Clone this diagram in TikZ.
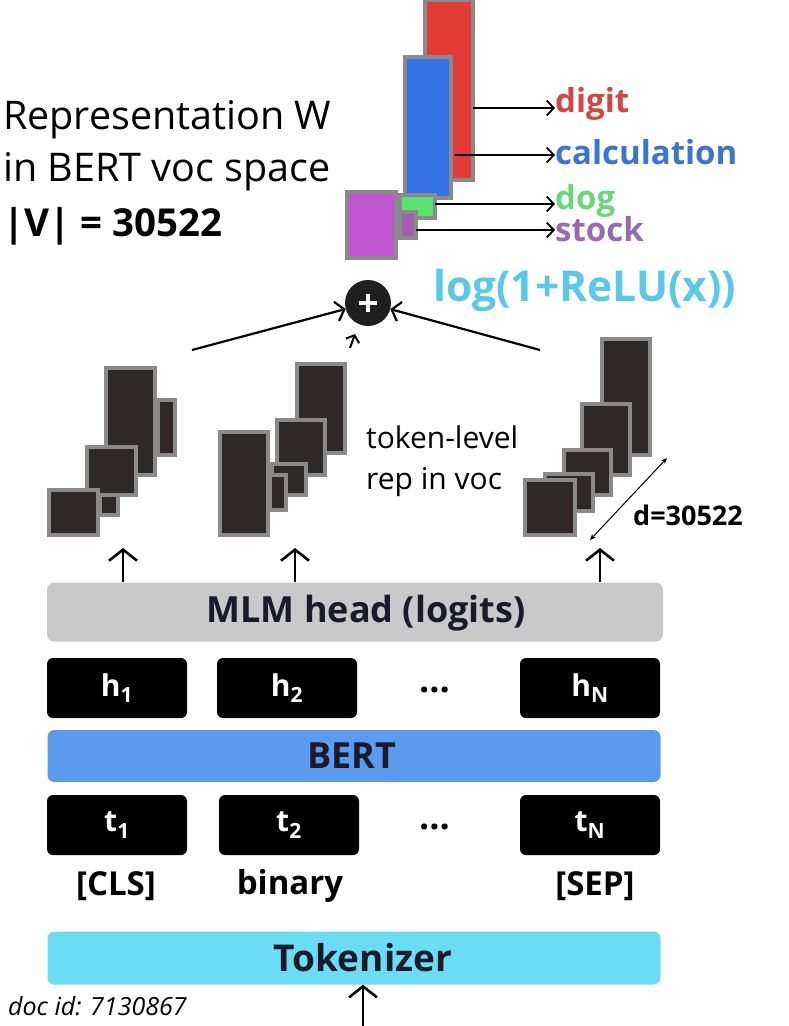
\documentclass[tikz,border=0pt]{standalone}
\usepackage{fontspec}
\setmainfont{Open Sans}
\usetikzlibrary{arrows.meta}
\definecolor{barred}{HTML}{E33B35}
\definecolor{barblue}{HTML}{3572E6}
\definecolor{barpurple}{HTML}{C056D0}
\definecolor{bargreen}{HTML}{5EE070}
\definecolor{barpurple2}{HTML}{A060B0}
\definecolor{txtred}{HTML}{D44545}
\definecolor{txtblue}{HTML}{3C74D0}
\definecolor{txtgreen}{HTML}{6AD87A}
\definecolor{txtpurple}{HTML}{9A6AAA}
\definecolor{txtcyan}{HTML}{5CC8E8}
\definecolor{mlmgray}{HTML}{C9C9C9}
\definecolor{bertblue}{HTML}{5B9BEF}
\definecolor{tokcyan}{HTML}{6ADDF4}
\definecolor{stkdark}{HTML}{2E2828}
\definecolor{stkedge}{HTML}{8A8A8A}
\definecolor{darktxt}{HTML}{1A1A2A}
\newcommand{\fs}[1]{\fontsize{#1}{#1}\selectfont}
\begin{document}
\begin{tikzpicture}[x=1pt,y=-1pt,
  stk/.style={draw=stkedge,line width=4.5pt,fill=stkdark},
  vbar/.style={draw=stkedge,line width=4pt},
  hbox/.style={fill=black,rounded corners=6pt,minimum width=140,minimum height=60,text=white,font=\bfseries\fs{30},inner sep=0pt},
  band/.style={rounded corners=7pt,inner sep=0pt},
  bandtxt/.style={inner sep=0pt,font=\bfseries\fs{36},text=darktxt},
  bigarrow/.style={line width=2.6pt,-{Straight Barb[length=11pt,width=28pt,line width=2.6pt]}},
  midarrow/.style={line width=2.2pt,-{Straight Barb[length=8pt,width=20pt,line width=2.2pt]}},
  lblarrow/.style={line width=1.8pt,-{Straight Barb[length=7pt,width=15pt,line width=1.8pt]}},
  wordlbl/.style={anchor=west,inner sep=0pt,font=\bfseries\fs{33}},
  toklbl/.style={font=\bfseries\fs{33},inner sep=0pt},
  dotlbl/.style={font=\bfseries\fs{36},inner sep=0pt}
]
\useasboundingbox[fill=white] (0,0) rectangle (788,1026);

% ---- top-left text
\node[anchor=west,inner sep=0pt,font=\fs{39.5}] (rep1) at (3,120) {Representation W};
\node[anchor=west,inner sep=0pt,font=\fs{39.5}] (rep2) at (3,172) {in BERT voc space};
\node[anchor=west,inner sep=0pt,font=\bfseries\fs{38.5}] (rep3) at (3,226) {|V| = 30522};

% ---- top bars
\draw[vbar,fill=barred] (425,0) rectangle (473,180);
\draw[vbar,fill=barblue] (405,57) rectangle (451,198);
\draw[vbar,fill=bargreen] (400,195) rectangle (435,218);
\draw[vbar,fill=barpurple2] (400,212) rectangle (416,238);
\draw[vbar,fill=barpurple] (347,192) rectangle (396,258);

\coordinate (cdigit) at (473,108);
\coordinate (ccalc) at (455,155);
\coordinate (cdog) at (435,204);
\coordinate (cstock) at (416,230);
\node[wordlbl,text=txtred] (digit) at (555,104) {digit};
\node[wordlbl,text=txtblue] (calc) at (555,152) {calculation};
\node[wordlbl,text=txtgreen] (dog) at (555,201) {dog};
\node[wordlbl,text=txtpurple] (stock) at (555,229) {stock};
\draw[lblarrow] (cdigit) -- (cdigit -| digit.west);
\draw[lblarrow] (ccalc) -- (ccalc -| calc.west);
\draw[lblarrow] (cdog) -- (cdog -| dog.west);
\draw[lblarrow] (cstock) -- (cstock -| stock.west);

\node[anchor=west,inner sep=0pt,font=\bfseries\fs{42.5},text=txtcyan] (logrelu) at (433,290) {log(1+ReLU(x))};

% ---- plus
\node[circle,fill=black!88,minimum size=46,inner sep=0pt] (plus) at (368,303) {};
\draw[white,line width=3.6pt] ([xshift=-9pt]plus.center) -- ([xshift=9pt]plus.center);
\draw[white,line width=3.6pt] ([yshift=-9pt]plus.center) -- ([yshift=9pt]plus.center);

\coordinate (s1top) at (192,350);
\coordinate (s3top) at (540,350);
\coordinate (s2top) at (350,348);
\draw[midarrow] (s1top) -- (plus);
\draw[midarrow] (s3top) -- (plus);
\draw[line width=2pt,-{Straight Barb[length=6pt,width=14pt,line width=2pt]}] (s2top) -- (355,334);

% ---- stack 1
\draw[stk] (158,400) rectangle (175,455);
\draw[stk] (106,368) rectangle (155,475);
\draw[stk] (100,492) rectangle (118,515);
\draw[stk] (87,447) rectangle (136,495);
\draw[stk] (49,490) rectangle (98,535);
% ---- stack 2
\draw[stk] (297,364) rectangle (345,453);
\draw[stk] (277,420) rectangle (325,475);
\draw[stk] (272,464) rectangle (306,495);
\draw[stk] (270,475) rectangle (286,510);
\draw[stk] (220,432) rectangle (268,535);
% ---- stack 3
\draw[stk] (602,339) rectangle (650,455);
\draw[stk] (582,404) rectangle (630,475);
\draw[stk] (564,450) rectangle (611,495);
\draw[stk] (545,474) rectangle (593,511);
\draw[stk] (525,480) rectangle (575,535);

\node[anchor=west,inner sep=0pt,font=\fs{30}] (tl1) at (366,437) {token-level};
\node[anchor=west,inner sep=0pt,font=\fs{30}] (tl2) at (366,482) {rep in voc};

\coordinate (dA) at (667,458);
\coordinate (dB) at (590,540);
\draw[line width=1pt,{Stealth[length=6pt,width=5pt]}-{Stealth[length=6pt,width=5pt]}] (dA) -- (dB);
\node[anchor=west,inner sep=0pt,font=\bfseries\fs{27}] (dlbl) at (633,515) {d=30522};

% ---- bands and boxes
\node[band,fill=mlmgray,minimum width=616,minimum height=59] (mlm) at (355,612) {};
\node[bandtxt] (mlmtxt) at (366,613) {MLM head (logits)};
\node[hbox] (h1) at (117,688) {h\textsubscript{1}};
\node[hbox] (h2) at (287,688) {h\textsubscript{2}};
\node[hbox] (hN) at (590,688) {h\textsubscript{N}};
\node[dotlbl] (hdots) at (435,690) {…};
\node[band,fill=bertblue,minimum width=613,minimum height=52] (bert) at (354,756) {};
\node[bandtxt] (berttxt) at (352,756) {BERT};
\node[hbox] (t1) at (117,825) {t\textsubscript{1}};
\node[hbox] (t2) at (289,825) {t\textsubscript{2}};
\node[hbox] (tN) at (590,825) {t\textsubscript{N}};
\node[dotlbl] (tdots) at (435,827) {…};
\node[toklbl] (cls) at (116,886) {[CLS]};
\node[toklbl] (bin) at (290,886) {binary};
\node[toklbl] (sep) at (595,886) {[SEP]};
\node[band,fill=tokcyan,minimum width=613,minimum height=53] (tok) at (354,958) {};
\node[bandtxt,font=\bfseries\fs{37}] (toktxt) at (363,958) {Tokenizer};
\node[anchor=west,inner sep=0pt,font=\itshape\fs{25}] (docid) at (8,1006) {doc id: 7130867};

\coordinate (s1bot) at (123,548);
\coordinate (s2bot) at (295,548);
\coordinate (s3bot) at (600,548);
\draw[bigarrow] (mlm.north -| s1bot) -- (s1bot);
\draw[bigarrow] (mlm.north -| s2bot) -- (s2bot);
\draw[bigarrow] (mlm.north -| s3bot) -- (s3bot);
\coordinate (docin) at (363,1026);
\draw[bigarrow] (docin) -- (tok.south -| docin);
\end{tikzpicture}
\end{document}
